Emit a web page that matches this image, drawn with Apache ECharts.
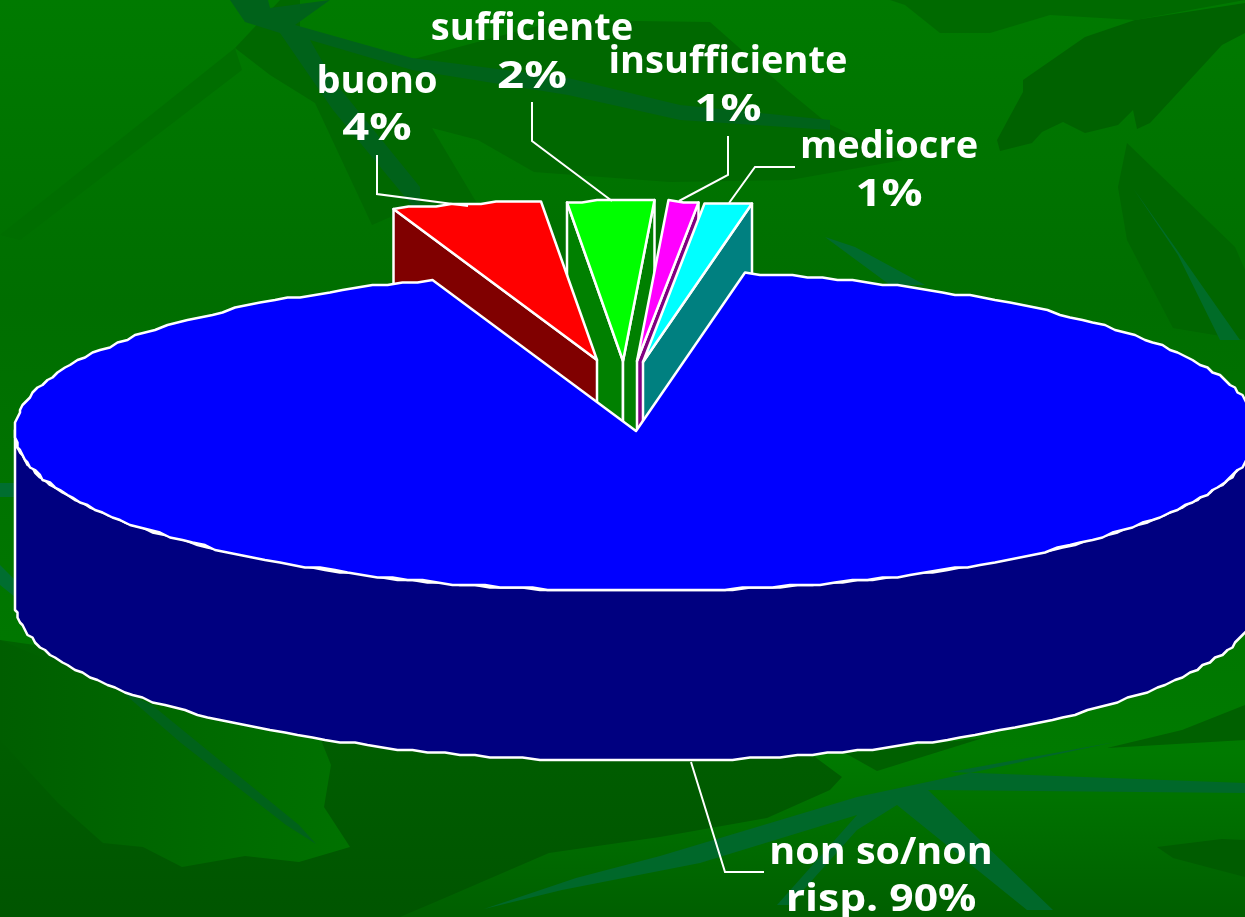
<!DOCTYPE html>
<html><head><meta charset="utf-8">
<style>html,body{margin:0;padding:0;background:#006a00}#c{width:1245px;height:917px}</style>
<script src="https://cdn.jsdelivr.net/npm/echarts@6/dist/echarts.min.js"></script>
</head><body><div id="c"></div>
<script>
// ---- data ----
const categories    = ['mediocre', 'insufficiente', 'sufficiente', 'buono', 'non so/non'];
const labelPrefix   = ['', '', '', '', 'risp. '];
const labelPercents = [1, 1, 2, 4, 90];
// slice sizes as they are drawn in the picture (share of the full turn, in %)
const sliceShares   = [1.17, 0.83, 2.2, 3.9, 91.9];
const topColors  = ['#00ffff', '#ff00ff', '#00ff00', '#ff0000', '#0000ff'];
const sideColors = ['#008080', '#800080', '#008000', '#800000', '#000080'];
const explodeX   = [7, 1, -13, -39, 0];
const explodeY   = [-69, -70, -70, -71, 0];
const labelX     = [889, 728, 532, 377, 881];
const line1Y     = [147, 62, 29, 82, 853];
const line2Y     = [195, 110, 77, 129, 900];
const line1Scale = [1, 1, 1, 1, 1.04];
const line2Scale = [1.2, 1.2, 1.25, 1.24, 1.12];
const leaders    = [
  [[795,167],[755,167],[729,203]],
  [[728,136],[728,175],[679,201]],
  [[532,102],[532,141],[612,201]],
  [[377,155],[377,194],[468,206]],
  [[691,762],[725,872],[764,872]]
];
const paintOrder = [2, 3, 1, 0, 4];
const startAngle = 80;

// ---- geometry ----
const CX = 636, CY = 431, RX = 621, RY = 160, DEPTH = 170;
const total = sliceShares.reduce((a, b) => a + b, 0);
const spans = [];
let acc = startAngle;
sliceShares.forEach(v => { spans.push([acc, acc + v / total * 360]); acc += v / total * 360; });
const snap = v => Math.round(v / 2.5) * 2.5;
const rim = (t, ox, oy) => {
  const r = t * Math.PI / 180;
  return [snap(CX + RX * Math.cos(r)) + ox, snap(CY - RY * Math.sin(r)) + oy];
};
const arc = (a, b, ox, oy) => {
  const pts = []; const n = Math.max(2, Math.ceil((b - a) / 1.5));
  for (let i = 0; i <= n; i++) pts.push(rim(a + (b - a) * i / n, ox, oy));
  return pts;
};
const edgeStyle = fill => ({ fill, stroke: '#ffffff', lineWidth: 2.5, lineJoin: 'round' });
const drop = p => [p[0], p[1] + DEPTH];

function renderItem(params, api) {
  const idx = api.value(1);
  const span = spans[idx];
  const ox = explodeX[idx], oy = explodeY[idx];
  const apex = [CX + ox, CY + oy];
  const kids = [];
  const base = params.dataIndex * 10 + 1;
  const wall = (t) => {
    const p = rim(t, ox, oy);
    kids.push({ type: 'polygon', z2: base,
      shape: { points: [apex, p, drop(p), drop(apex)] }, style: edgeStyle(sideColors[idx]) });
  };
  if (span[1] - span[0] < 180) {
    if (span[1] > 90) wall(span[1]);
    if (span[0] < 90) wall(span[0]);
  } else {
    const front = arc(180, 360, ox, oy);
    kids.push({ type: 'polygon', z2: base,
      shape: { points: front.concat(front.map(drop).reverse()) }, style: edgeStyle(sideColors[idx]) });
  }
  kids.push({ type: 'polygon', z2: base + 1,
    shape: { points: [apex].concat(arc(span[0], span[1], ox, oy)) }, style: edgeStyle(topColors[idx]) });
  kids.push({ type: 'polyline', z2: 200, shape: { points: leaders[idx] },
    style: { fill: 'none', stroke: '#ffffff', lineWidth: 2 } });
  const textStyle = t => ({ text: t, fill: '#ffffff', font: 'bold 38px "Open Sans"',
    textAlign: 'center', textVerticalAlign: 'middle' });
  kids.push({ type: 'text', z2: 201, x: labelX[idx], y: line1Y[idx], scaleX: line1Scale[idx],
    style: textStyle(categories[idx]) });
  kids.push({ type: 'text', z2: 201, x: labelX[idx], y: line2Y[idx], scaleX: line2Scale[idx],
    style: textStyle(labelPrefix[idx] + api.value(0) + '%') });
  return { type: 'group', children: kids };
}

// ---- backdrop foliage ----
const sideFade = (a, b) => new echarts.graphic.LinearGradient(0, 0, 1, 0, [
  { offset: 0, color: a }, { offset: 1, color: b }]);
const downFade = (a, b) => new echarts.graphic.LinearGradient(0, 0, 0, 1, [
  { offset: 0, color: a }, { offset: 1, color: b }]);
const foliage = [
  ['#006800', [[300,30],[410,60],[560,20],[710,22],[787,90],[827,123],[903,160],[790,180],[670,182],[534,172],[478,140],[432,128],[478,205],[395,215],[372,225],[315,103],[270,75],[235,48],[280,0],[300,0]]],
  ['#006e00', [[0,235],[235,48],[242,70],[20,240]]],
  ['#006a00', [[890,0],[905,5],[940,33],[990,33],[1050,15],[1135,20],[1245,0]]],
  ['#006200', [[1023,80],[1085,37],[1135,20],[1245,3],[1245,33],[1222,45],[1150,123],[1137,129],[1133,110],[1118,125],[1085,133],[1063,122],[1042,132],[1032,143],[1000,151],[997,140],[1023,92]]],
  ['#006600', [[1127,143],[1235,247],[1245,270],[1245,340],[1173,328],[1127,240],[1118,187]]],
  ['#006c28', [[1133,188],[1177,250],[1240,340],[1220,340],[1178,255]]],
  ['#006b2d', [[825,237],[855,247],[925,285],[890,285]]],
  ['#00621a', [[230,0],[268,0],[270,8],[330,0],[295,25],[412,58],[568,78],[680,105],[830,120],[830,130],[680,120],[568,95],[412,70],[310,40],[333,80],[420,187],[420,215],[333,110],[280,33],[245,22]]],
  [downFade('#006200', '#005500'), [[0,640],[815,757],[842,777],[830,790],[767,818],[660,837],[549,853],[440,900],[400,917],[0,917]]],
  [sideFade('#005e00', '#007200'), [[120,690],[321,740],[331,765],[324,807],[350,847],[299,862],[245,856],[182,867],[143,847],[103,843],[58,803],[0,740],[0,640]]],
  ['#00621a', [[120,690],[152,705],[299,825],[316,844],[286,825],[181,743]]],
  ['#006000', [[845,753],[877,771],[983,738]]],
  ['#006000', [[1107,748],[1182,730],[1245,705],[1245,740]]],
  ['#005c00', [[1157,847],[1222,839],[1245,840],[1245,877],[1173,858]]],
  ['#00682a', [[484,909],[576,878],[660,856],[857,797],[1115,742],[950,772],[1245,783],[1245,793],[928,790],[1053,910],[1027,910],[897,805],[857,830],[790,905],[777,905],[857,815],[700,863],[562,890]]],
  ['#006e30', [[0,483],[15,483],[15,497],[0,497]]],
  ['#006e30', [[0,565],[15,580],[15,597],[0,585]]]
];

const chart = echarts.init(document.getElementById('c'), null, { renderer: 'canvas' });
chart.setOption({
  animation: false,
  backgroundColor: new echarts.graphic.LinearGradient(0, 0, 0, 1, [
    { offset: 0, color: '#007a00' }, { offset: 0.33, color: '#006e00' },
    { offset: 0.82, color: '#007a00' }, { offset: 1, color: '#005f00' }]),
  graphic: foliage.map(f => ({ type: 'polygon', silent: true, z: -10,
    shape: { points: f[1] }, style: { fill: f[0] } })),
  series: [{
    type: 'custom', coordinateSystem: 'none', silent: true, clip: false,
    renderItem,
    dimensions: ['percent', 'slice'],
    data: paintOrder.map(i => [labelPercents[i], i])
  }]
});
</script></body></html>
